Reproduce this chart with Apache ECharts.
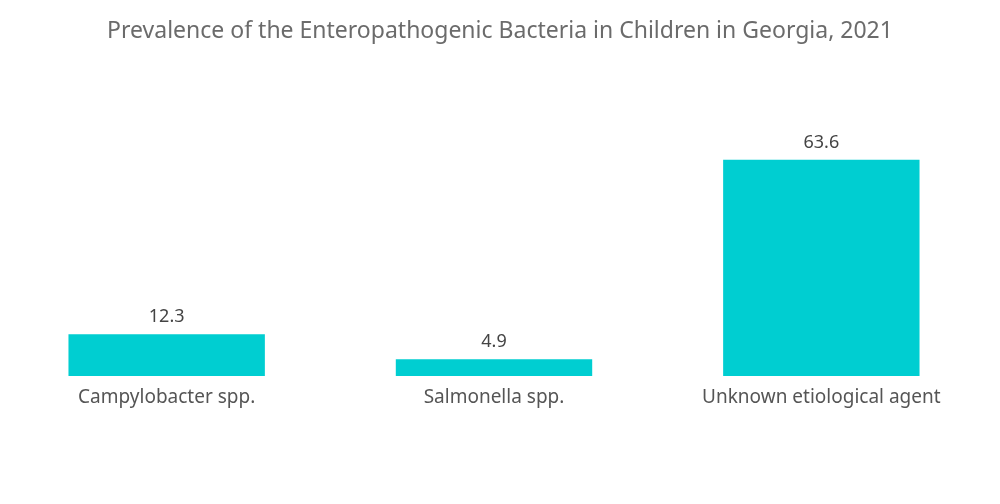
<!DOCTYPE html>
<html>
<head>
<meta charset="utf-8">
<script src="https://cdn.jsdelivr.net/npm/echarts@6/dist/echarts.min.js"></script>
<style>html,body{margin:0;padding:0;background:#fff}#c{width:1000px;height:504px}</style>
</head>
<body>
<div id="c"></div>
<script>
const categories = ["Campylobacter spp.", "Salmonella spp.", "Unknown etiological agent"];
const values = [12.3, 4.9, 63.6];
const titleText = "Prevalence of the Enteropathogenic Bacteria in Children in Georgia, 2021";

const FONT = '"Noto Sans", sans-serif';
const chart = echarts.init(document.getElementById('c'), null, {renderer: 'canvas'});
chart.setOption({
  animation: false,
  title: {
    text: titleText,
    left: 'center',
    top: 15,
    textStyle: {fontFamily: FONT, fontWeight: 'normal', fontSize: 23, color: '#6b6b6b'}
  },
  grid: {left: 3, right: 15, top: 104, bottom: 128, containLabel: false},
  xAxis: {
    type: 'category',
    data: categories,
    axisLine: {show: false},
    axisTick: {show: false},
    axisLabel: {fontFamily: FONT, fontSize: 19, color: '#555', margin: 12}
  },
  yAxis: {
    type: 'value',
    min: 0,
    max: 80,
    show: false,
    splitLine: {show: false}
  },
  series: [{
    type: 'bar',
    data: values,
    barWidth: '60%',
    itemStyle: {color: '#00CED1'},
    label: {show: true, position: 'top', distance: 8, fontFamily: FONT, fontSize: 18, color: '#444'}
  }]
});
</script>
</body>
</html>
